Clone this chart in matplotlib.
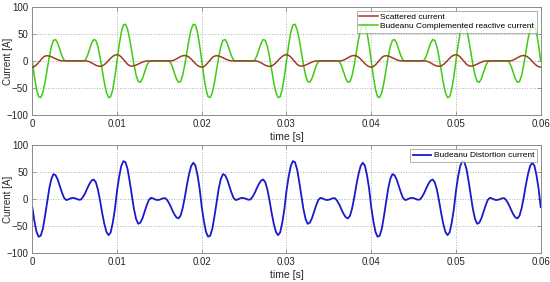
import numpy as np
import matplotlib
matplotlib.use("Agg")
import matplotlib.pyplot as plt

# ── Data (one 20 ms cycle, read every 0.25 ms) ────────────────────────────────
T_STEP   = 0.00025
N_CYCLES = 3

scattered = [
    -11.5, -10.4, -7.3, -2.8, 2.0, 6.3, 8.9, 9.6, 9.0, 7.7,
    5.9, 4.0, 2.2, 0.8, 0.1, 0, 0, 0, 0, 0,
    0, 0, 0, 0, 0, 0, -0.3, -1.6, -3.6, -5.9,
    -8.0, -9.5, -10.0, -9.2, -6.9, -3.4, 0.8, 4.9, 8.4, 10.7,
    11.5, 10.4, 7.3, 2.8, -2.0, -6.3, -8.9, -9.6, -9.0, -7.7,
    -5.9, -4.0, -2.2, -0.8, -0.1, 0, 0, 0, 0, 0,
    0, 0, 0, 0, 0, 0, 0.3, 1.6, 3.6, 5.9,
    8.0, 9.5, 10.0, 9.2, 6.9, 3.4, -0.8, -4.9, -8.4, -10.7,
]

complemented = [
    0, -29, -52.5, -66.3, -67.7, -58.2, -40, -16.7, 7, 26.5,
    38, 39.4, 32.7, 21.3, 9.3, 1.4, 0, 0, 0, 0,
    0, 0, 0, 0, 0, 1.4, 9.3, 21.3, 32.7, 39.4,
    38, 26.5, 7, -16.7, -40, -58.2, -67.7, -66.3, -52.5, -29,
    0, 29, 52.5, 66.3, 67.7, 58.2, 40, 16.7, -7, -26.5,
    -38, -39.4, -32.7, -21.3, -9.3, -1.4, 0, 0, 0, 0,
    0, 0, 0, 0, 0, -1.4, -9.3, -21.3, -32.7, -39.4,
    -38, -26.5, -7, 16.7, 40, 58.2, 67.7, 66.3, 52.5, 29,
]

distortion = [
    -15, -41, -61, -70, -68, -55, -32, -6, 19, 37,
    46, 44, 36, 24, 12, 2, -2, -1, 1, 2,
    1.5, 0, -1.5, -1, 4, 11, 20, 28, 34, 36,
    31, 17, -3, -26, -46, -61, -67, -62, -44, -19,
    15, 41, 61, 70, 68, 55, 32, 6, -19, -37,
    -46, -44, -36, -24, -12, -2, 2, 1, -1, -2,
    -1.5, 0, 1.5, 1, -4, -11, -20, -28, -34, -36,
    -31, -17, 3, 26, 46, 61, 67, 62, 44, 19,
]

x_ticks = [0, 0.01, 0.02, 0.03, 0.04, 0.05, 0.06]
y_ticks = [-100, -50, 0, 50, 100]

# ── Build series ──────────────────────────────────────────────────────────────
def cycles(v):
    v = np.asarray(v, dtype=float)
    return np.append(np.tile(v, N_CYCLES), v[0])

i_s = cycles(scattered)
i_q = cycles(complemented)
i_d = cycles(distortion)
t   = np.arange(len(i_s)) * T_STEP

# ── Style ─────────────────────────────────────────────────────────────────────
plt.rcParams["font.family"] = ["Liberation Sans", "DejaVu Sans"]
plt.rcParams["font.size"] = 7

C_RED   = "#9c3f24"
C_GREEN = "#3ccc10"
C_BLUE  = "#1a1acc"
C_AXIS  = "#8c8c8c"
C_TEXT  = "#262626"


def style_axes(ax):
    ax.set_xlim(0, 0.06)
    ax.set_ylim(-100, 100)
    ax.set_xticks(x_ticks)
    ax.set_xticklabels([f"{v:g}" for v in x_ticks])
    ax.set_yticks(y_ticks)
    ax.grid(True, color="#b0b0b0", linestyle=":", linewidth=0.7)
    ax.tick_params(direction="in", length=3, width=0.6, colors=C_AXIS,
                   labelcolor=C_TEXT, labelsize=7, pad=3, top=True, right=True)
    for s in ax.spines.values():
        s.set_edgecolor(C_AXIS)
        s.set_linewidth(0.7)
    ax.set_xlabel("time [s]", color=C_TEXT, fontsize=7.5, labelpad=2)
    ax.set_ylabel("Current [A]", color=C_TEXT, fontsize=7)
    ax.yaxis.set_label_coords(-0.038, 0.5)


fig = plt.figure(figsize=(5.5, 2.82), dpi=100)
ax1 = fig.add_axes([0.0587, 0.592, 0.9244, 0.384])
ax2 = fig.add_axes([0.0587, 0.103, 0.9244, 0.383])

l_q, = ax1.plot(t, i_q, color=C_GREEN, linewidth=1.1, zorder=2)
l_s, = ax1.plot(t, i_s, color=C_RED, linewidth=1.1, zorder=3)
style_axes(ax1)
leg1 = ax1.legend([l_s, l_q],
                  ["Scattered current", "Budeanu Complemented reactive current"],
                  loc="upper right", fontsize=6, frameon=True, fancybox=False,
                  borderpad=0.3, handlelength=2.2, handletextpad=0.3,
                  labelspacing=0.15, borderaxespad=0.5)
leg1.get_frame().set_edgecolor(C_AXIS)
leg1.get_frame().set_linewidth(0.6)

ax2.plot(t, i_d, color=C_BLUE, linewidth=1.3, label="Budeanu Distortion current")
style_axes(ax2)
leg2 = ax2.legend(loc="upper right", fontsize=6, frameon=True, fancybox=False,
                  borderpad=0.3, handlelength=2.2, handletextpad=0.3,
                  borderaxespad=0.5)
leg2.get_frame().set_edgecolor(C_AXIS)
leg2.get_frame().set_linewidth(0.6)

fig.savefig("out.png", dpi=100)
